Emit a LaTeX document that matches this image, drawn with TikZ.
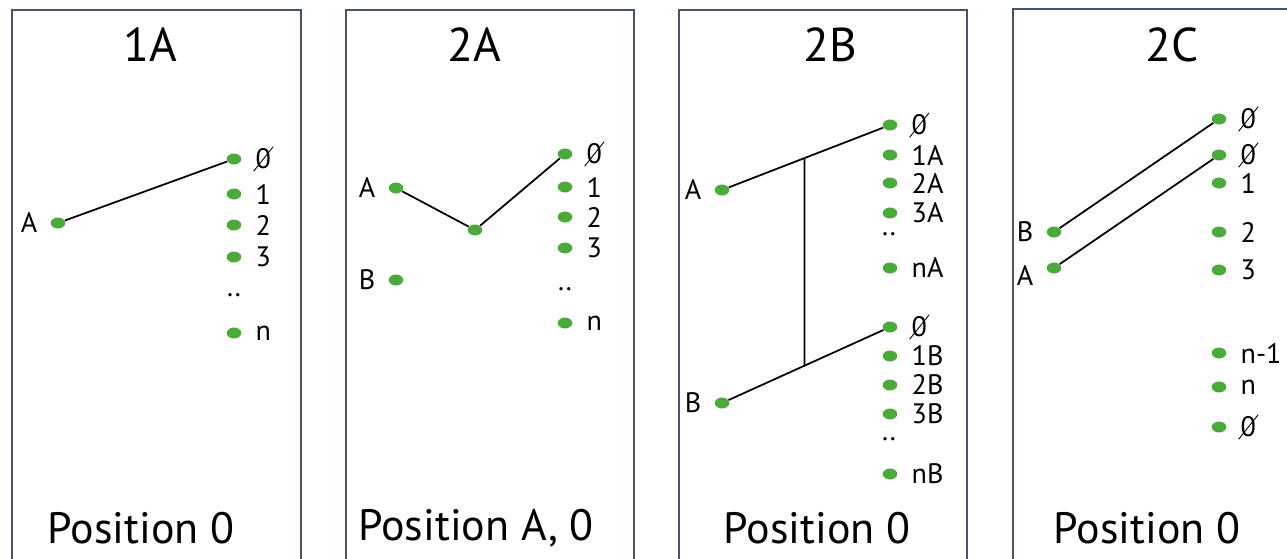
\documentclass[tikz,border=0pt]{standalone}
\usepackage{fontspec}
\setmainfont{PT Sans}
\usetikzlibrary{positioning, shapes.geometric}
\definecolor{dotgreen}{RGB}{74,170,58}
\definecolor{framegray}{RGB}{68,84,106}

\begin{document}
\begin{tikzpicture}[
    x=0.02cm, y=-0.02cm,
    node distance=0.1cm and 0.24cm,
    dot/.style={ellipse, fill=dotgreen, minimum width=0.29cm, minimum height=0.22cm, inner sep=0pt},
    lbl/.style={inner sep=1pt, font=\fontsize{16}{18}\selectfont},
    slashed/.style={append after command={(\tikzlastnode.south west) edge[line width=0.5pt] (\tikzlastnode.north east)}},
    title/.style={font=\fontsize{27}{30}\selectfont},
    bottomtext/.style={font=\fontsize{25}{28}\selectfont},
    panel/.style={draw=framegray, line width=0.8pt},
    wire/.style={line width=1pt}
    ]
    \useasboundingbox (0,0) rectangle (1287,558);

    % Panels
    \draw[panel] (12,570) -- (12,10) -- (301,10) -- (301,570);
    \draw[panel] (346,570) -- (346,10) -- (634,10) -- (634,570);
    \draw[panel] (679,570) -- (679,10) -- (967,10) -- (967,570);
    \draw[panel] (1013,570) -- (1013,9) -- (1300,9);

    % 1A
    \node[title] (t1) at (150,45) {1A};
    \node[bottomtext] (p1) at (141,528) {Position 0};
    \node[dot] (a1) at (58,223) {};
    \node[lbl] (la1) [left=0.22cm of a1] {A};
    \node[dot] (z1) at (234,159) {};
    \node[dot] (r11) at (234,194) {};
    \node[dot] (r12) at (234,225) {};
    \node[dot] (r13) at (234,257) {};
    \node[lbl] (dd1) at (234,295) {..};
    \node[dot] (rn1) at (234,333) {};
    \node[lbl, slashed] (lz1) [right=of z1] {0};
    \node[lbl] (l11) [right=of r11] {1};
    \node[lbl] (l12) [right=of r12] {2};
    \node[lbl] (l13) [right=of r13] {3};
    \node[lbl] (ln1) [right=of rn1] {n};
    \draw[wire] (a1) -- (z1);

    % 2A
    \node[title] (t2) at (474,45) {2A};
    \node[bottomtext] (p2) at (476,528) {Position A, 0};
    \node[dot] (a2) at (396,188) {};
    \node[lbl] (la2) [left=0.22cm of a2] {A};
    \node[dot] (b2) at (396,280) {};
    \node[lbl] (lb2) [left=0.22cm of b2] {B};
    \node[dot] (m2) at (475,230) {};
    \node[dot] (z2) at (565,154) {};
    \node[dot] (r21) at (565,187) {};
    \node[dot] (r22) at (565,217) {};
    \node[dot] (r23) at (565,248) {};
    \node[lbl] (dd2) at (565,289) {..};
    \node[dot] (rn2) at (565,323) {};
    \node[lbl, slashed] (lz2) [right=of z2] {0};
    \node[lbl] (l21) [right=of r21] {1};
    \node[lbl] (l22) [right=of r22] {2};
    \node[lbl] (l23) [right=of r23] {3};
    \node[lbl] (ln2) [right=of rn2] {n};
    \draw[wire] (a2) -- (m2) -- (z2);

    % 2B
    \node[title] (t3) at (830,45) {2B};
    \node[bottomtext] (p3) at (817,528) {Position 0};
    \node[dot] (a3) at (722,190) {};
    \node[lbl] (la3) [left=0.22cm of a3] {A};
    \node[dot] (b3) at (722,403) {};
    \node[lbl] (lb3) [left=0.22cm of b3] {B};
    \node[dot] (za3) at (890,125) {};
    \node[dot] (r31) at (890,155) {};
    \node[dot] (r32) at (890,183) {};
    \node[dot] (r33) at (890,213) {};
    \node[lbl] (dd3) at (889,234) {..};
    \node[dot] (rn3) at (890,268) {};
    \node[dot] (zb3) at (890,327) {};
    \node[dot] (s31) at (890,356) {};
    \node[dot] (s32) at (890,385) {};
    \node[dot] (s33) at (890,414) {};
    \node[lbl] (de3) at (889,439) {..};
    \node[dot] (sn3) at (890,474) {};
    \node[lbl, slashed] (lza3) [right=of za3] {0};
    \node[lbl] (l31) [right=of r31] {1A};
    \node[lbl] (l32) [right=of r32] {2A};
    \node[lbl] (l33) [right=of r33] {3A};
    \node[lbl] (ln3) [right=of rn3] {nA};
    \node[lbl, slashed] (lzb3) [right=of zb3] {0};
    \node[lbl] (k31) [right=of s31] {1B};
    \node[lbl] (k32) [right=of s32] {2B};
    \node[lbl] (k33) [right=of s33] {3B};
    \node[lbl] (kn3) [right=of sn3] {nB};
    \draw[wire] (a3) -- (za3) coordinate[pos=0.49] (ja3);
    \draw[wire] (b3) -- (zb3) coordinate[pos=0.49] (jb3);
    \draw[wire] (ja3) -- (jb3);

    % 2C
    \node[title] (t4) at (1172,45) {2C};
    \node[bottomtext] (p4) at (1147,528) {Position 0};
    \node[dot] (b4) at (1054,232) {};
    \node[lbl] (lb4) [left=0.22cm of b4] {B};
    \node[dot] (a4) at (1054,268) {};
    \node[lbl] (la4) [left=0.22cm of a4, yshift=-4pt] {A};
    \node[dot] (zt4) at (1219,119) {};
    \node[dot] (z4) at (1219,155) {};
    \node[dot] (r41) at (1219,183) {};
    \node[dot] (r42) at (1219,232) {};
    \node[dot] (r43) at (1219,270) {};
    \node[dot] (rm4) at (1219,353) {};
    \node[dot] (rn4) at (1219,387) {};
    \node[dot] (zl4) at (1219,427) {};
    \node[lbl, slashed] (lzt4) [right=of zt4] {0};
    \node[lbl, slashed] (lz4) [right=of z4] {0};
    \node[lbl] (l41) [right=of r41] {1};
    \node[lbl] (l42) [right=of r42] {2};
    \node[lbl] (l43) [right=of r43] {3};
    \node[lbl] (lm4) [right=of rm4] {n-1};
    \node[lbl] (ln4) [right=of rn4] {n};
    \node[lbl, slashed] (lzl4) [right=of zl4] {0};
    \draw[wire] (b4) -- (zt4);
    \draw[wire] (a4) -- (z4);
\end{tikzpicture}
\end{document}
